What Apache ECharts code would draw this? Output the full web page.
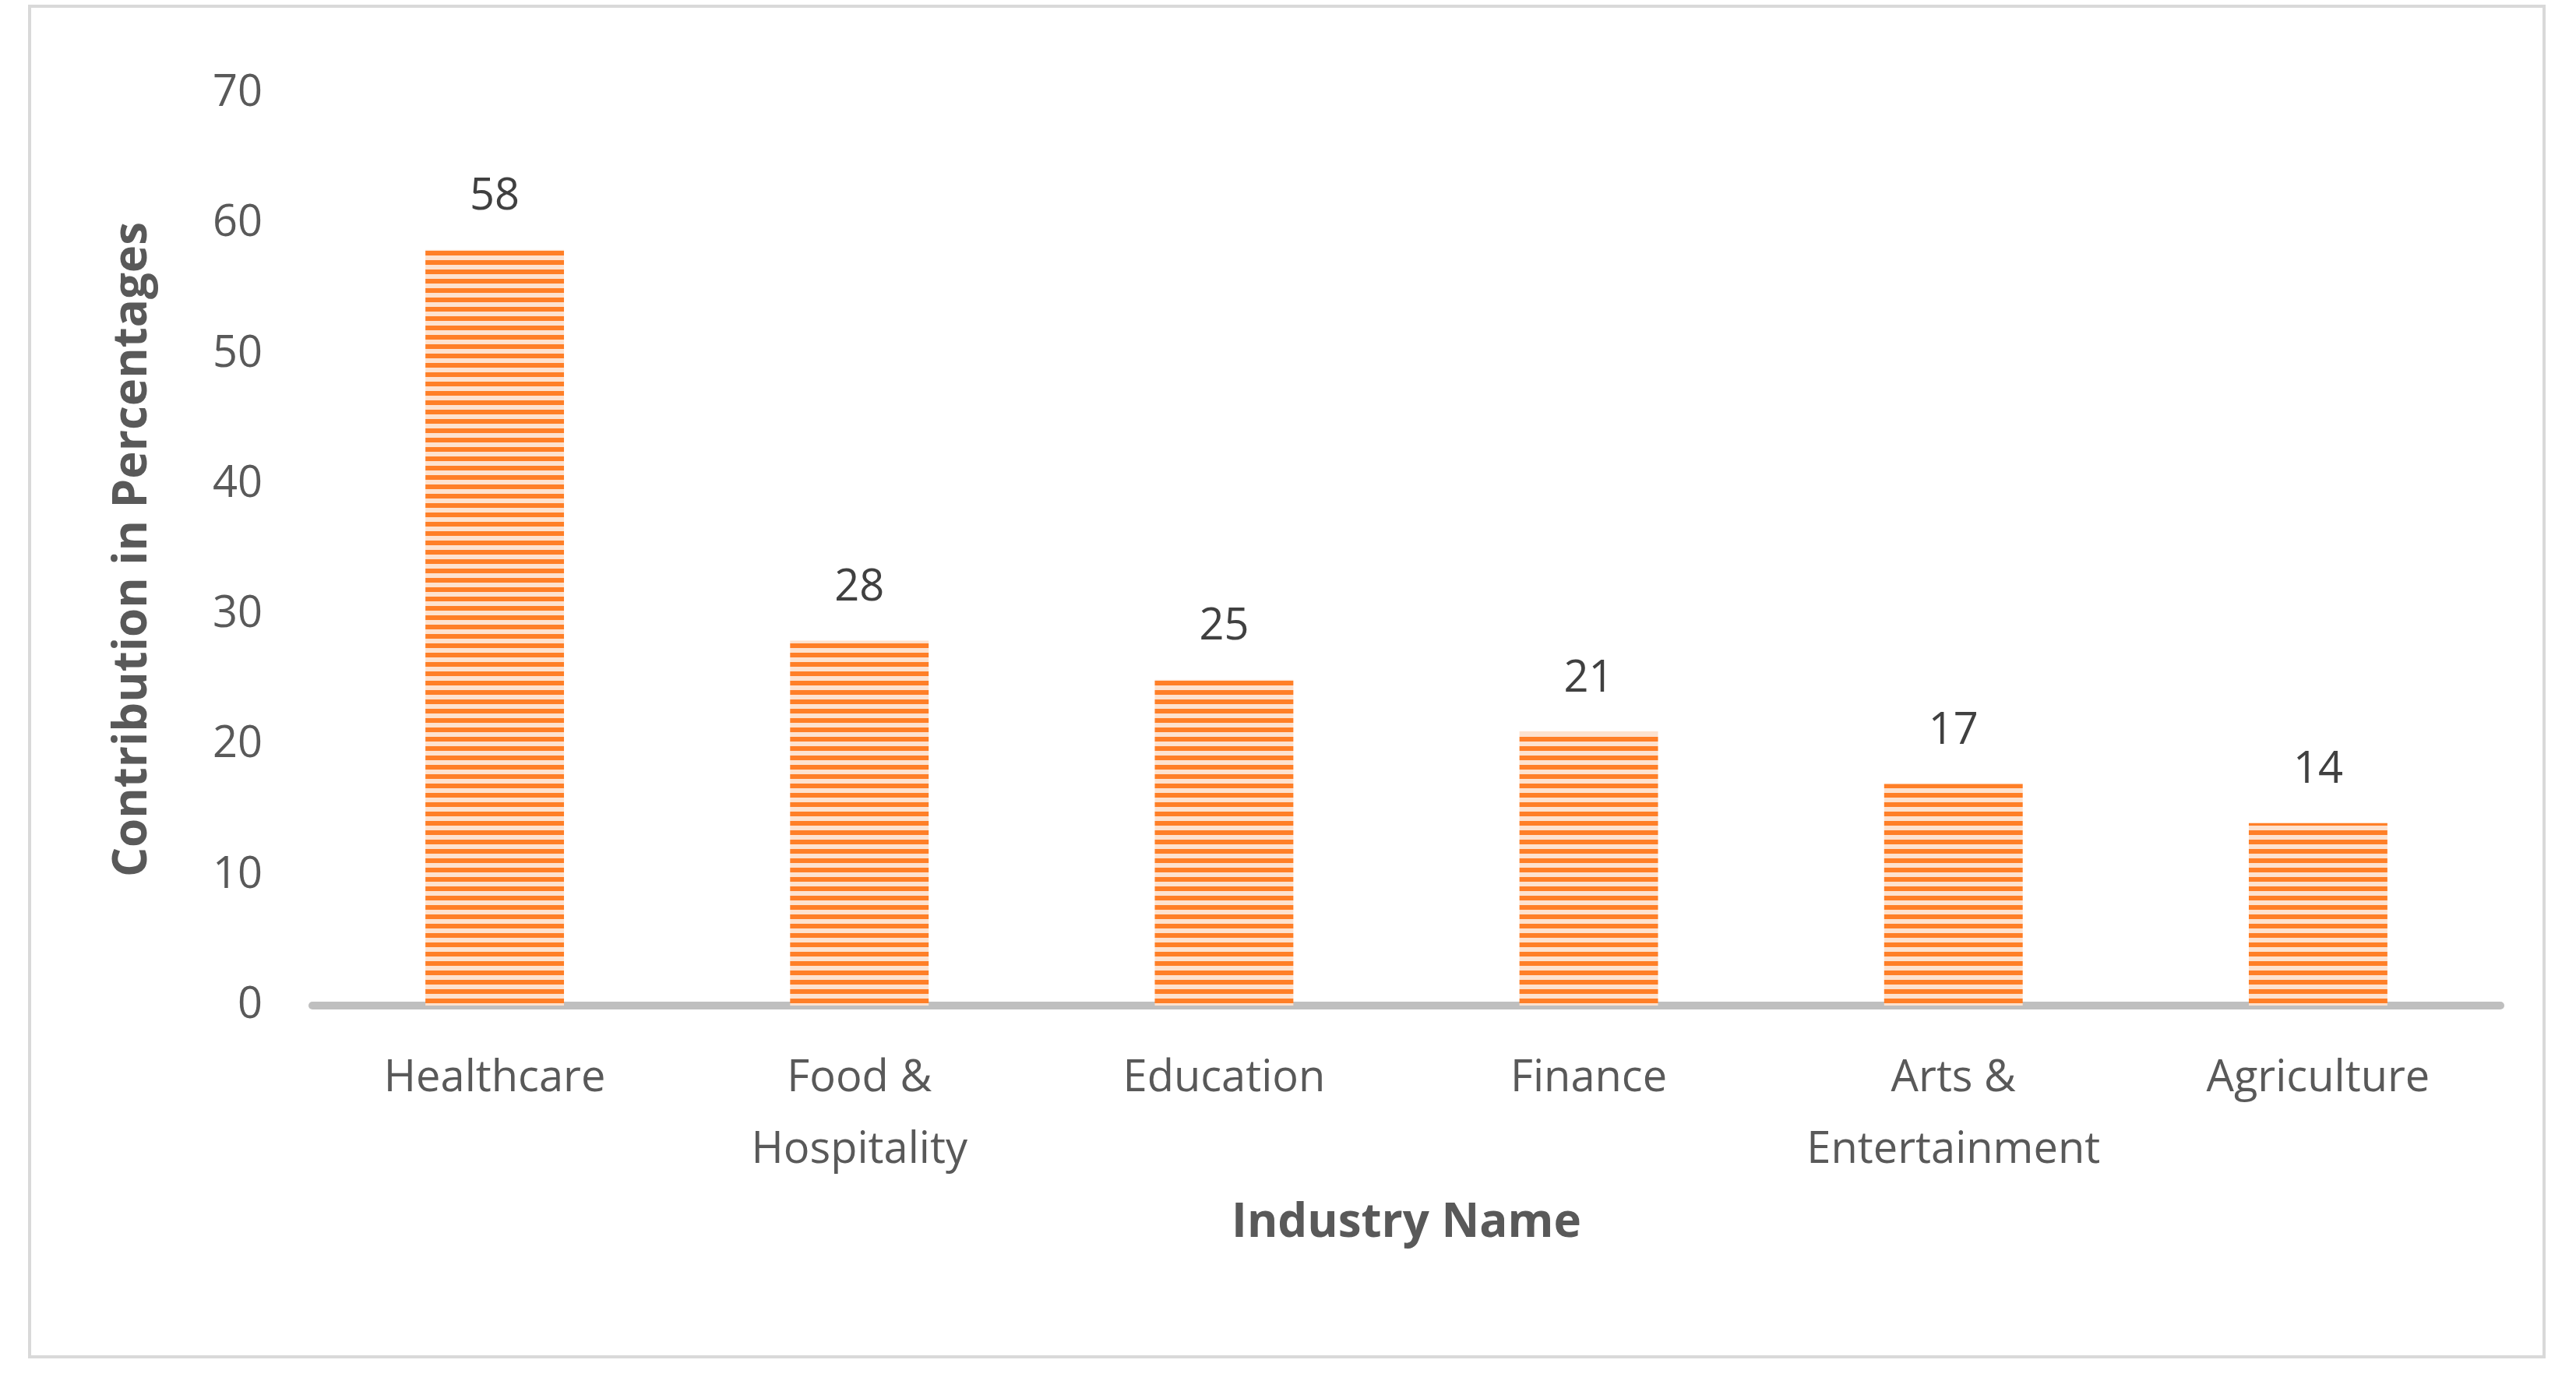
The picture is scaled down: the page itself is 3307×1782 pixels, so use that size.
<!DOCTYPE html>
<html>
<head>
<meta charset="utf-8">
<title>Industry contribution</title>
<script src="https://cdn.jsdelivr.net/npm/echarts@6/dist/echarts.min.js"></script>
<style>
html,body{margin:0;padding:0;background:#fff;}
#main{position:absolute;left:36px;top:6px;width:3232px;height:1738px;border:4px solid #d9d9d9;box-sizing:border-box;}
</style>
</head>
<body>
<div id="main"></div>
<script>
var industries = ['Healthcare', 'Food &\nHospitality', 'Education', 'Finance', 'Arts &\nEntertainment', 'Agriculture'];
var contribution = [58, 28, 25, 21, 17, 14];

// striped fill like the original bars
var stripe = document.createElement('canvas');
stripe.width = 12; stripe.height = 12;
var ctx = stripe.getContext('2d');
ctx.fillStyle = '#fde2cf'; ctx.fillRect(0, 0, 12, 12);
ctx.fillStyle = '#ff7f27'; ctx.fillRect(0, 0, 12, 6);

var chart = echarts.init(document.getElementById('main'));
chart.setOption({
  animation: false,
  grid: { left: 361, right: 54, top: 110, bottom: 449 },
  xAxis: {
    type: 'category',
    data: industries,
    name: 'Industry Name',
    nameLocation: 'middle',
    nameGap: 250,
    nameTextStyle: { fontFamily: 'Open Sans', fontSize: 60, fontWeight: 'bold', color: '#595959' },
    axisLine: { lineStyle: { color: '#bfbfbf', width: 10 } },
    axisTick: { show: false },
    axisLabel: { fontFamily: 'Open Sans', fontSize: 56, color: '#595959', margin: 48, lineHeight: 92, interval: 0 }
  },
  yAxis: {
    type: 'value',
    min: 0, max: 70, interval: 10,
    name: 'Contribution in Percentages',
    nameLocation: 'middle',
    nameGap: 200,
    nameTextStyle: { fontFamily: 'Open Sans', fontSize: 60, fontWeight: 'bold', color: '#595959' },
    axisLine: { show: false },
    axisTick: { show: false },
    splitLine: { show: false },
    axisLabel: { fontFamily: 'Open Sans', fontSize: 56, color: '#595959', margin: 64 }
  },
  series: [{
    type: 'bar',
    data: contribution,
    barWidth: '38%',
    itemStyle: { color: { image: stripe, repeat: 'repeat' } },
    label: { show: true, position: 'top', distance: 40, fontFamily: 'Open Sans', fontSize: 56, color: '#404040' }
  }]
});
</script>
</body>
</html>
